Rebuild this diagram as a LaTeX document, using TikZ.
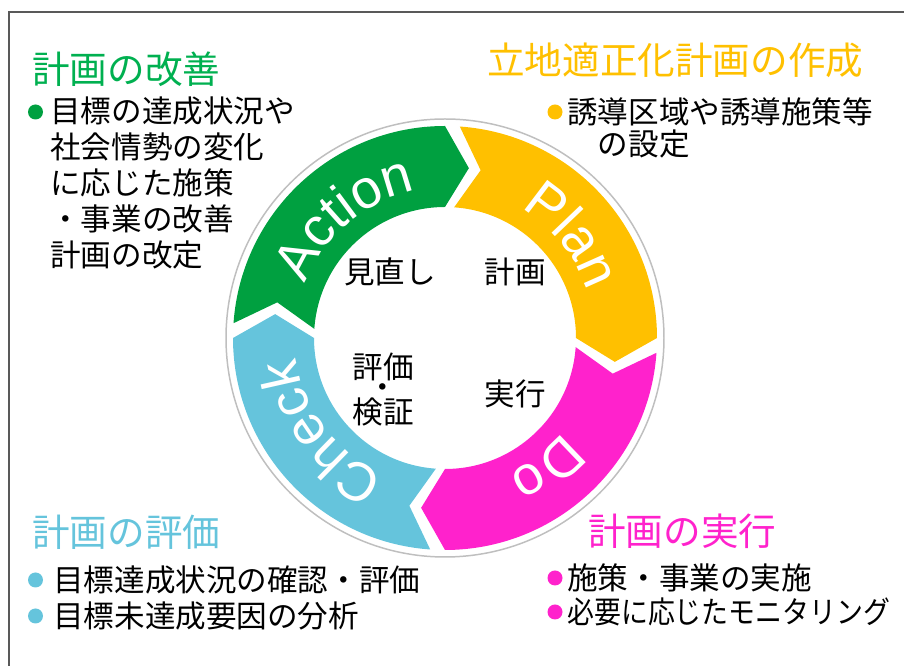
\documentclass[tikz,border=0pt]{standalone}
\usepackage{fontspec}
\setmainfont{Noto Sans CJK JP}
\newfontfamily\ringfamily{Liberation Sans}
\usetikzlibrary{decorations.text}
\definecolor{actgreen}{HTML}{00A040}
\definecolor{headgreen}{HTML}{00B050}
\definecolor{planyellow}{HTML}{FFC000}
\definecolor{domagenta}{HTML}{FF22CC}
\definecolor{checkcyan}{HTML}{65C4DC}
\definecolor{framegray}{HTML}{595959}
\definecolor{ringgray}{HTML}{BFBFBF}
\newcommand{\ringfont}{\ringfamily\fontsize{31}{31}\selectfont}

\begin{document}
\begin{tikzpicture}[x=0.02cm, y=0.02cm,
  head/.style={anchor=west, inner sep=0, font=\fontsize{21.4}{24}\selectfont},
  body/.style={anchor=west, inner sep=0, align=left, font=\fontsize{17.4}{20.4}\selectfont},
  mid/.style={inner sep=0, font=\fontsize{17.4}{20}\selectfont},
  ringword/.style={decorate, decoration={text along path, text align=center, text color=white, text={|\ringfont|#1}}}
]
\useasboundingbox (0,0) rectangle (904,666);
\draw[framegray, line width=0.85pt] (9,0) -- (9,654) -- (904,654);

% PDCA ring
\begin{scope}[shift={(445,328)}]
\draw[ringgray, line width=0.85pt] (0,0) circle (219);
\foreach \s/\col in {180/actgreen, 90/planyellow, 0/domagenta, -90/checkcyan}{
  \pgfmathsetmacro{\e}{\s-90}
  \fill[\col] ({\s-4}:212) arc[start angle=\s-4, end angle=\e, radius=212]
    -- ({\e-8}:171.5) -- (\e:131) arc[start angle=\e, end angle=\s-4, radius=131]
    -- ({\s-12}:171.5) -- cycle;
}
\path[ringword=Action] (175:150) arc[start angle=175, end angle=85, radius=150];
\path[ringword=Plan] (84:150) arc[start angle=84, end angle=-6, radius=150];
\path[ringword=Do] (-7:150) arc[start angle=-7, end angle=-97, radius=150];
\path[ringword=Check] (-98:150) arc[start angle=-98, end angle=-188, radius=150];
\end{scope}

% inner labels
\node[mid] (review) at (390,394) {見直し};
\node[mid] (plan) at (515,394) {計画};
\node[mid] (eval) at (383,299) {評価};
\node[mid] (evaldot) at (383,275) {・};
\node[mid] (verify) at (383,254) {検証};
\node[mid] (exec) at (515,272) {実行};

% headings
\node[head, headgreen] (acthead) at (32,597) {計画の改善};
\node[head, planyellow] (planhead) at (487,606) {立地適正化計画の作成};
\node[head, checkcyan] (checkhead) at (32,134) {計画の評価};
\node[head, domagenta] (dohead) at (588,135) {計画の実行};

% bullets
\foreach \x/\y/\col in {35.5/554/actgreen, 555/554/planyellow, 35.5/86/checkcyan,
  35.5/50/checkcyan, 555/88/domagenta, 555/54/domagenta}
  \fill[\col] (\x,\y) circle (7.5);

\node[body] (actbody) at (50,483) {目標の達成状況や\\社会情勢の変化\\に応じた施策\\・事業の改善\\計画の改定};
\node[body, font=\fontsize{17.4}{18.1}\selectfont] (planbody) at (567,538) {誘導区域や誘導施策等\\\hspace*{1em}の設定};
\node[body] (checkbody) at (53,68) {目標達成状況の確認・評価\\目標未達成要因の分析};
\node[body, font=\fontsize{17.4}{19.3}\selectfont] (dobody) at (567,71) {施策・事業の実施\\\scalebox{0.88}[1]{必要に応じたモニタリング}};

\end{tikzpicture}
\end{document}
